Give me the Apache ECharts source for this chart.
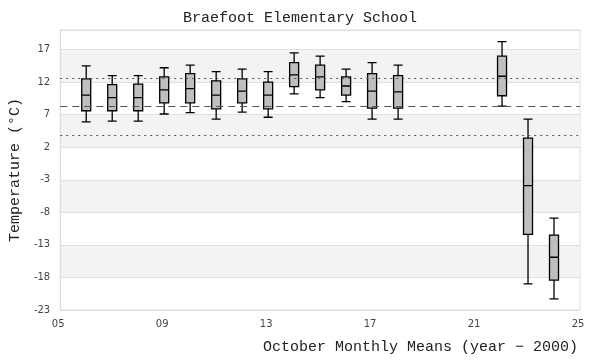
<!DOCTYPE html>
<html><head><meta charset="utf-8">
<script src="https://cdn.jsdelivr.net/npm/echarts@6/dist/echarts.min.js"></script>
<style>html,body{margin:0;padding:0;background:#fff}#c{width:600px;height:360px}</style>
</head><body><div id="c"></div>
<script>
// Years (year - 2000)
var years = [6, 7, 8, 9, 10, 11, 12, 13, 14, 15, 16, 17, 18, 22, 23, 24];
// [min, Q1, median, Q3, max] in °C
var mins    = [5.9, 6.0, 6.0, 7.1, 7.3, 6.3, 7.4, 6.6, 10.2, 9.6, 9.0, 6.3, 6.3, 8.3, -19.0, -21.3];
var q1s     = [7.6, 7.6, 7.6, 8.8, 8.8, 7.9, 8.8, 7.9, 11.3, 10.8, 10.0, 8.0, 8.0, 9.9, -11.4, -18.4];
var medians = [10.0, 9.6, 9.6, 10.8, 11.0, 10.0, 10.6, 10.0, 13.1, 12.8, 11.4, 10.6, 10.5, 12.9, -3.9, -14.9];
var q3s     = [12.5, 11.6, 11.7, 12.8, 13.3, 12.2, 12.5, 12.0, 15.0, 14.6, 12.8, 13.3, 13.0, 16.0, 3.4, -11.5];
var maxs    = [14.5, 13.0, 13.0, 14.2, 14.6, 13.6, 14.0, 13.6, 16.5, 16.0, 14.0, 15.0, 14.6, 18.2, 6.3, -8.9];
// reference lines: mean and mean ± 1 sd
var refLines = [12.6, 8.35, 3.9];
var refTypes = ['dotted', 'dashed', 'dotted'];
// axis ticks
var yTicks = [-23, -18, -13, -8, -3, 2, 7, 12, 17];
var xTicks = ['05', '09', '13', '17', '21', '25'];

var yMin = -23, yMax = 20, xMin = 5, xMax = 25;
var yOff = -yMin, xOff = -xMin;

var boxData = years.map(function (y, i) {
  return [y + xOff, mins[i] + yOff, q1s[i] + yOff, medians[i] + yOff, q3s[i] + yOff, maxs[i] + yOff];
});

var monoFont = '"Liberation Mono", "DejaVu Sans Mono", monospace';
var chart = echarts.init(document.getElementById('c'), null, {renderer: 'canvas'});
chart.setOption({
  animation: false,
  backgroundColor: '#fff',
  title: {
    text: 'Braefoot Elementary School',
    left: 'center', top: 6,
    textStyle: {fontFamily: monoFont, fontSize: 15, fontWeight: 'normal', color: '#222'}
  },
  grid: {left: 50, right: 20, top: 30, bottom: 50, show: true, borderColor: '#dcdcdc', borderWidth: 1, backgroundColor: 'transparent'},
  xAxis: {
    type: 'value', min: 0, max: xMax - xMin, interval: 4,
    name: 'October Monthly Means (year \u2212 2000)',
    nameLocation: 'end', nameGap: -2,
    nameTextStyle: {fontFamily: monoFont, fontSize: 15, color: '#222', align: 'right', verticalAlign: 'top', padding: [30, 0, 0, 0]},
    axisLine: {show: true, lineStyle: {color: '#dcdcdc'}},
    axisTick: {show: false},
    splitLine: {show: false},
    axisLabel: {
      color: '#444', fontFamily: 'DejaVu Sans', fontSize: 10, margin: 9, padding: [0, 4, 0, 0],
      formatter: function (v) { return xTicks[Math.round(v / 4)]; }
    }
  },
  yAxis: {
    type: 'value', min: 0, max: yMax - yMin, interval: 5,
    name: 'Temperature (\u00b0C)',
    nameLocation: 'middle', nameGap: 25, nameRotate: 90,
    nameTextStyle: {fontFamily: monoFont, fontSize: 15, color: '#222'},
    axisLine: {show: true, lineStyle: {color: '#dcdcdc'}},
    axisTick: {show: false},
    splitLine: {show: true, lineStyle: {color: '#e0e0e0'}},
    splitArea: {show: true, areaStyle: {color: ['rgba(255,255,255,0)', '#f3f3f3']}},
    axisLabel: {
      color: '#444', fontFamily: 'DejaVu Sans', fontSize: 10, margin: 10,
      formatter: function (v) { var t = yTicks[Math.round(v / 5)]; return t === undefined ? '' : String(t); }
    }
  },
  series: [{
    type: 'boxplot',
    data: boxData,
    boxWidth: [9, 9],
    itemStyle: {color: '#bfbfbf', borderColor: '#000', borderWidth: 1.3},
    markLine: {
      silent: true, symbol: 'none', label: {show: false},
      data: refLines.map(function (v, i) {
        return {yAxis: v + yOff, lineStyle: {type: refTypes[i] === 'dashed' ? [7, 5] : [2, 4], color: '#555', width: 1.2}};
      })
    }
  }]
});
</script></body></html>
